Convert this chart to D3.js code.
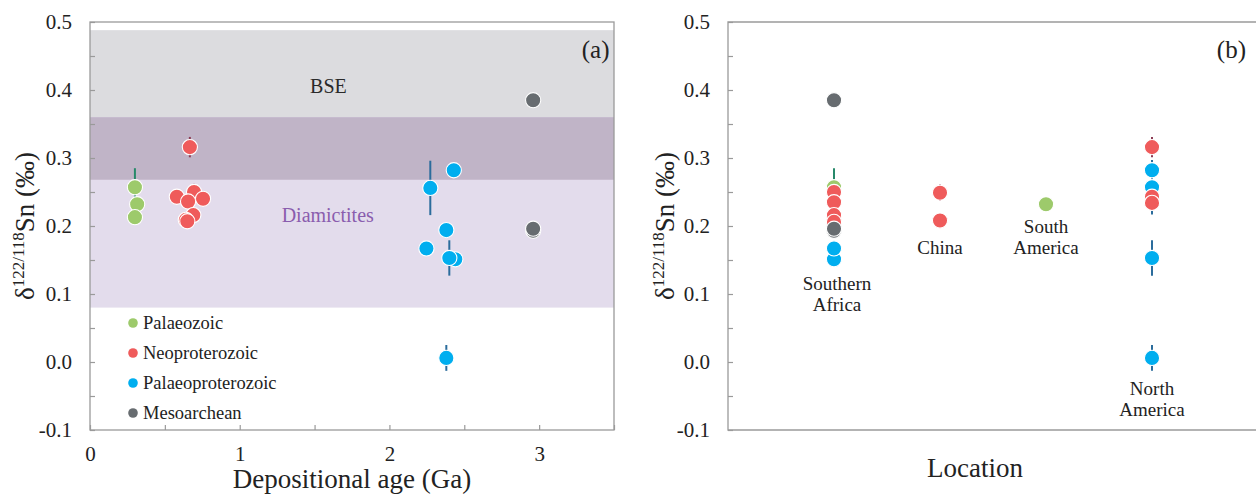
<!DOCTYPE html>
<html>
<head>
<meta charset="utf-8">
<script src="https://cdn.jsdelivr.net/npm/d3@7"></script>
<style>
html,body{margin:0;padding:0;background:#fff;}
svg, svg text{font-family:"Liberation Serif","Times New Roman",Times,"DejaVu Serif",serif !important;}
</style>
</head>
<body>
<svg id="chart" width="1256" height="495"></svg>
<script>
// ---------- DATA ----------
const seriesNames = ["Palaeozoic", "Neoproterozoic", "Palaeoproterozoic", "Mesoarchean"];
const yTicks = [-0.1, 0.0, 0.1, 0.2, 0.3, 0.4, 0.5];
const xTicksA = [0, 1, 2, 3];

// reference bands (‰)
const bandNames = ["BSE", "Diamictites"];
const bandLow  = [0.268, 0.080];
const bandHigh = [0.488, 0.360];

// Panel (a): depositional age (Ga), δ value, 2SD error, series index (draw order)
const ageA = [0.30, 0.315, 0.30,
              0.667, 0.58, 0.695, 0.755, 0.655, 0.69, 0.64, 0.65,
              2.273, 2.43, 2.38, 2.247, 2.44, 2.40, 2.38,
              2.96, 2.96, 2.96];
const valA = [0.257, 0.232, 0.213,
              0.316, 0.243, 0.250, 0.240, 0.236, 0.216, 0.209, 0.207,
              0.256, 0.282, 0.194, 0.167, 0.151, 0.153, 0.006,
              0.385, 0.193, 0.196];
const errA = [0.028, 0, 0,
              0.015, 0, 0.012, 0, 0, 0, 0, 0,
              0.040, 0, 0, 0, 0, 0.026, 0.019,
              0, 0.008, 0];
const serA = [0, 0, 0,
              1, 1, 1, 1, 1, 1, 1, 1,
              2, 2, 2, 2, 2, 2, 2,
              3, 3, 3];

// Panel (b): location index, δ value, error, series index (draw order)
const locations = [["Southern", "Africa"], ["China"], ["South", "America"], ["North", "America"]];
const locB = [0, 0, 0, 0, 0, 0, 0, 0, 0, 0, 0, 0,
              1, 1,
              2,
              3, 3, 3, 3, 3, 3, 3];
const valB = [0.385, 0.257, 0.213, 0.250, 0.235, 0.216, 0.206, 0.194, 0.151, 0.167, 0.193, 0.196,
              0.249, 0.208,
              0.232,
              0.153, 0.006, 0.282, 0.257, 0.316, 0.243, 0.234];
const errB = [0, 0.028, 0, 0, 0, 0, 0, 0, 0, 0, 0.008, 0,
              0.012, 0,
              0,
              0.026, 0.019, 0.008, 0.040, 0.015, 0, 0.008];
const serB = [3, 0, 0, 1, 1, 1, 1, 2, 2, 2, 3, 3,
              1, 1,
              0,
              2, 2, 2, 2, 1, 1, 1];

// ---------- STYLE ----------
const FONT = '"Liberation Serif","Times New Roman",Times,"DejaVu Serif",serif';
const fill   = ["#9dca6b", "#ef5b5b", "#00aeef", "#676c70"];
const errCol = ["#27896a", "#8c3c55", "#2b6c9c", "#4d5256"];
const axisCol = "#9a9a9a";
const R = 7.6;

const svg = d3.select("#chart");

const y = d3.scaleLinear().domain([-0.1, 0.5]).range([430, 22]);
const minorY = d3.range(-0.1, 0.5001, 0.05).map(v => Math.round(v * 100) / 100);
const fmtY = v => d3.format(".1f")(v).replace("−", "-");
const isMajor = v => yTicks.some(t => Math.abs(t - v) < 1e-6);

function styleAxis(g) {
  g.attr("font-family", FONT);
  g.select(".domain").remove();
  g.selectAll(".tick line").attr("stroke", axisCol).attr("stroke-width", 1.2);
  g.selectAll(".tick text").attr("fill", "#222").attr("font-size", 21).attr("font-family", FONT);
  g.selectAll(".tick text").filter(function () { return this.textContent === ""; }).remove();
}

function yAxis(g, x0) {
  g.attr("transform", `translate(${x0},0)`)
    .call(d3.axisLeft(y).tickValues(minorY).tickSize(-5).tickPadding(18)
      .tickFormat(v => isMajor(v) ? fmtY(v) : ""));
  styleAxis(g);
}

function yLabel(x, yc) {
  const t = svg.append("text")
    .attr("transform", `translate(${x},${yc}) rotate(-90)`)
    .attr("text-anchor", "middle")
    .attr("fill", "#222")
    .attr("font-family", FONT)
    .attr("font-size", 27);
  t.append("tspan").text("δ");
  t.append("tspan").attr("dy", -10).attr("font-size", 17).text("122/118");
  t.append("tspan").attr("dy", 10).text("Sn (‰)");
}

function addText(g, x, yy, str, size, color, anchor) {
  return g.append("text").attr("x", x).attr("y", yy).attr("fill", color || "#222")
    .attr("text-anchor", anchor || "start").attr("font-family", FONT).attr("font-size", size).text(str);
}

function drawPoints(g, xs, vals, errs, sers) {
  const idx = d3.range(vals.length);
  g.selectAll("line.err").data(idx.filter(i => errs[i] > 0)).join("line")
    .attr("class", "err")
    .attr("x1", i => xs(i)).attr("x2", i => xs(i))
    .attr("y1", i => y(vals[i] + errs[i])).attr("y2", i => y(vals[i] - errs[i]))
    .attr("stroke", i => errCol[sers[i]]).attr("stroke-width", 2);
  g.selectAll("circle.pt").data(idx).join("circle")
    .attr("class", "pt")
    .attr("cx", i => xs(i)).attr("cy", i => y(vals[i]))
    .attr("r", R)
    .attr("fill", i => fill[sers[i]])
    .attr("stroke", "#fff").attr("stroke-width", 1.1);
}

// ---------- PANEL (a) ----------
const xA = d3.scaleLinear().domain([0, 3.5]).range([90, 614]);
const gA = svg.append("g");

// bands
const ovLow = Math.max(bandLow[0], bandLow[1]), ovHigh = Math.min(bandHigh[0], bandHigh[1]);
gA.append("rect").attr("x", xA(0)).attr("width", xA(3.5) - xA(0))
  .attr("y", y(bandHigh[0])).attr("height", y(bandLow[0]) - y(bandHigh[0])).attr("fill", "#dcdcdf");
gA.append("rect").attr("x", xA(0)).attr("width", xA(3.5) - xA(0))
  .attr("y", y(bandHigh[1])).attr("height", y(bandLow[1]) - y(bandHigh[1])).attr("fill", "#e3dcec");
gA.append("rect").attr("x", xA(0)).attr("width", xA(3.5) - xA(0))
  .attr("y", y(ovHigh)).attr("height", y(ovLow) - y(ovHigh)).attr("fill", "#c0b4c7");

addText(gA, xA(1.47), 93, bandNames[0], 20, "#2a2a2a");
addText(gA, xA(1.28), 222, bandNames[1], 20, "#8a5dae");
addText(gA, xA(3.47), 58, "(a)", 25, "#222", "end");

// frame
gA.append("rect").attr("x", xA(0)).attr("y", y(0.5)).attr("width", xA(3.5) - xA(0))
  .attr("height", y(-0.1) - y(0.5)).attr("fill", "none").attr("stroke", axisCol).attr("stroke-width", 1.3);

gA.append("g").call(g => yAxis(g, xA(0)));
gA.append("g").attr("transform", `translate(0,${y(-0.1)})`)
  .call(d3.axisBottom(xA).tickValues(d3.range(0, 3.51, 0.5)).tickSize(-5).tickPadding(16)
    .tickFormat(v => xTicksA.includes(v) ? d3.format("d")(v) : ""))
  .call(styleAxis);

drawPoints(gA.append("g"), i => xA(ageA[i]), valA, errA, serA);

// legend
const leg = gA.append("g");
seriesNames.forEach((s, k) => {
  const ly = 323 + k * 30;
  leg.append("circle").attr("cx", 133).attr("cy", ly).attr("r", 4.8).attr("fill", fill[k]);
  addText(leg, 143, ly + 6, s, 18.5, "#222");
});

addText(svg, 352, 488, "Depositional age (Ga)", 27, "#222", "middle");
yLabel(34, 226);

// ---------- PANEL (b) ----------
const xB = d3.scaleLinear().domain([-1, 4]).range([728, 1258]);
const gB = svg.append("g");
gB.append("path")
  .attr("d", `M${xB(4)},${y(0.5)}H${xB(-1)}V${y(-0.1)}H${xB(4)}`)
  .attr("fill", "none").attr("stroke", axisCol).attr("stroke-width", 1.3);
gB.append("g").call(g => yAxis(g, xB(-1)));

drawPoints(gB.append("g"), i => xB(locB[i]), valB, errB, serB);

const locLabelY = [290, 254, 233, 395];
locations.forEach((lines, k) => {
  const t = gB.append("text").attr("text-anchor", "middle").attr("fill", "#222")
    .attr("font-family", FONT).attr("font-size", 19);
  lines.forEach((ln, j) => {
    t.append("tspan").attr("x", xB(k) + (k === 0 ? 3 : 0)).attr("y", locLabelY[k] + j * 21).text(ln);
  });
});

addText(gB, 1246, 58, "(b)", 25, "#222", "end");
addText(svg, 975, 477, "Location", 27, "#222", "middle");
yLabel(674, 226);
</script>
</body>
</html>
